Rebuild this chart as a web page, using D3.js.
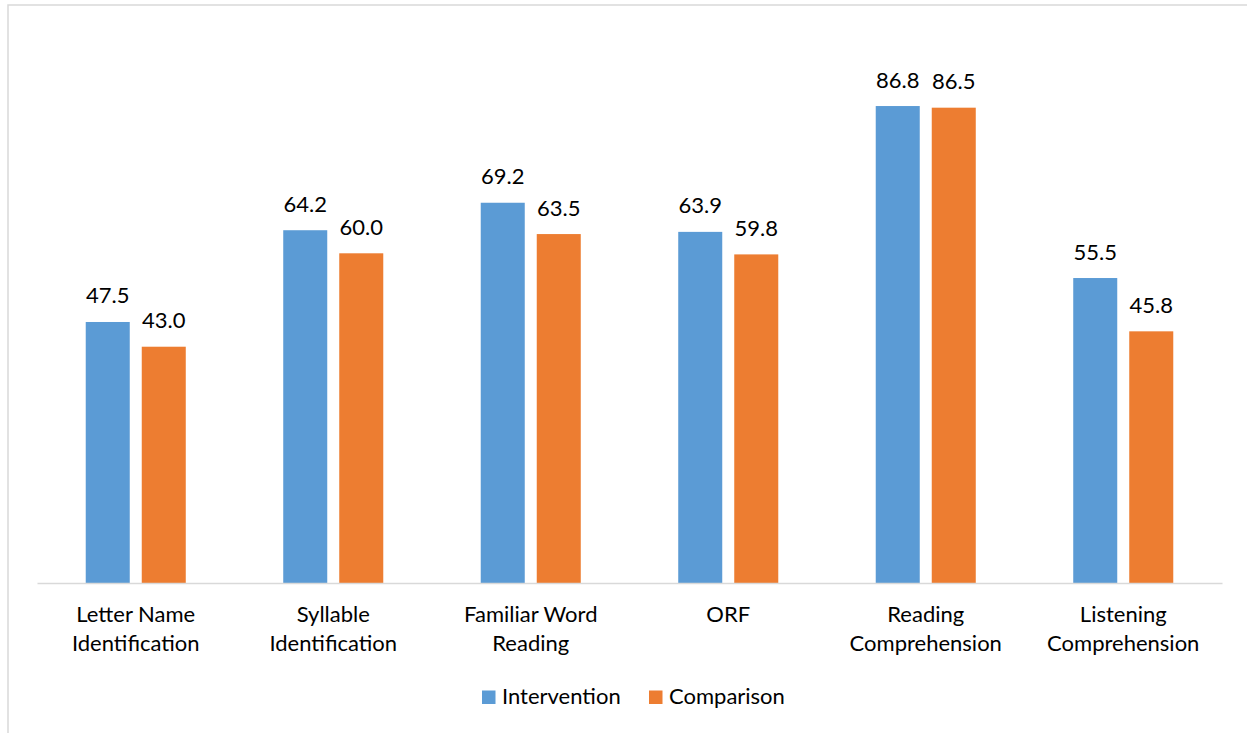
<!DOCTYPE html>
<html>
<head>
<meta charset="utf-8">
<script src="https://cdn.jsdelivr.net/npm/d3@7"></script>
<style>
  html, body { margin: 0; padding: 0; background: #fff; }
  svg { display: block; }
  text { font-family: Lato, "Open Sans", sans-serif; fill: #000; }
</style>
</head>
<body>
<svg id="chart" width="1247" height="733"></svg>
<script>
// Mean scores by subtask
const categories = [
  ["Letter Name", "Identification"],
  ["Syllable", "Identification"],
  ["Familiar Word", "Reading"],
  ["ORF"],
  ["Reading", "Comprehension"],
  ["Listening", "Comprehension"]
];
const seriesNames = ["Intervention", "Comparison"];
const intervention = [47.5, 64.2, 69.2, 63.9, 86.8, 55.5];
const comparison = [43.0, 60.0, 63.5, 59.8, 86.5, 45.8];
const colors = ["#5B9BD5", "#ED7D31"];

const svg = d3.select("#chart");
const W = 1247, H = 733;
const fontSize = 22;

// outer frame
svg.append("rect")
  .attr("x", 8).attr("y", 5)
  .attr("width", W + 20).attr("height", H + 20)
  .attr("fill", "#fff")
  .attr("stroke", "#d9d9d9")
  .attr("stroke-width", 1.5);

const plot = { left: 37, right: 1222, top: 33.5, bottom: 583 };

const keys = categories.map((c, i) => i);
const x0 = d3.scaleBand().domain(keys).range([plot.left, plot.right]).paddingInner(0).paddingOuter(0);
const x1 = d3.scaleBand().domain(seriesNames).range([0, x0.bandwidth()])
  .paddingInner(12 / 56).paddingOuter(0.87);
const y = d3.scaleLinear().domain([0, 100]).range([plot.bottom, plot.top]);

const rows = keys.map(i => ({ i, values: [intervention[i], comparison[i]] }));

const groups = svg.append("g").selectAll("g")
  .data(rows)
  .join("g")
  .attr("transform", d => `translate(${x0(d.i)},0)`);

groups.selectAll("rect")
  .data(d => d.values.map((v, k) => ({ name: seriesNames[k], v, k })))
  .join("rect")
  .attr("x", d => x1(d.name))
  .attr("y", d => y(d.v))
  .attr("width", x1.bandwidth())
  .attr("height", d => y(0) - y(d.v))
  .attr("fill", d => colors[d.k]);

groups.selectAll("text.value")
  .data(d => d.values.map((v, k) => ({ name: seriesNames[k], v, k })))
  .join("text")
  .attr("class", "value")
  .attr("x", d => x1(d.name) + x1.bandwidth() / 2)
  .attr("y", d => y(d.v) - 18.5)
  .attr("text-anchor", "middle")
  .style("font-size", fontSize + "px")
  .text(d => d.v.toFixed(1));

// category axis
const xAxis = d3.axisBottom(x0).tickSize(0).tickFormat("");
const axisG = svg.append("g")
  .attr("transform", `translate(0,${plot.bottom})`)
  .call(xAxis);
axisG.select(".domain").attr("stroke", "#d9d9d9").attr("stroke-width", 1.5);

axisG.selectAll(".tick").each(function (d) {
  const t = d3.select(this).append("text")
    .attr("text-anchor", "middle")
    .style("font-size", fontSize + "px");
  categories[d].forEach((line, j) => {
    t.append("tspan").attr("x", 0).attr("y", 39 + j * 29).text(line);
  });
});

// legend
const legend = svg.append("g");
const legendItems = [
  { name: seriesNames[0], color: colors[0], x: 482 },
  { name: seriesNames[1], color: colors[1], x: 649 }
];
legendItems.forEach(it => {
  legend.append("rect")
    .attr("x", it.x).attr("y", 690.5)
    .attr("width", 13.5).attr("height", 13.5)
    .attr("fill", it.color);
  legend.append("text")
    .attr("x", it.x + 20).attr("y", 704)
    .style("font-size", fontSize + "px")
    .text(it.name);
});
</script>
</body>
</html>
